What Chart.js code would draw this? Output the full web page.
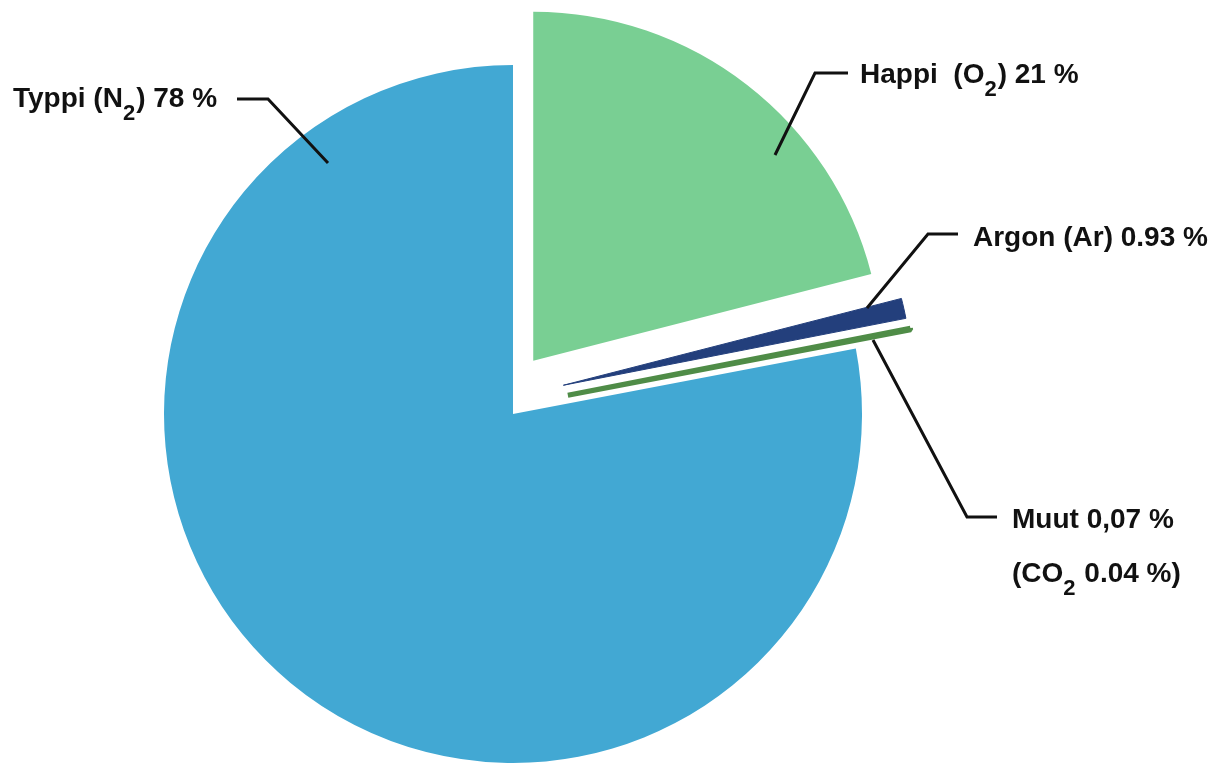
<!DOCTYPE html>
<html>
<head>
<meta charset="utf-8">
<title>Ilman koostumus</title>
<script src="https://cdn.jsdelivr.net/npm/chart.js@4.4.1/dist/chart.umd.min.js"></script>
<style>
  html, body { margin: 0; padding: 0; background: #fff; }
  #wrap { width: 1223px; height: 766px; position: relative; }
</style>
</head>
<body>
<div id="wrap"><canvas id="airChart"></canvas></div>
<script>
// Composition of dry air, percent (clockwise from 12 o'clock)
const gases = ['Happi', 'Argon', 'Muut', 'Typpi'];
const shares = [21, 0.93, 0.07, 78];

// Label rows per slice, "_2" marks a subscript digit
const labelRows = [
  ['Happi  (O_2) 21 %'],
  ['Argon (Ar) 0.93 %'],
  ['Muut 0,07 %', '(CO_2 0.04 %)'],
  ['Typpi (N_2) 78 %']
];

const sliceColors = ['#79cf93', '#233f7c', '#4f8c47', '#42a8d3'];

// Where each label sits and how its leader line runs (canvas px)
const labelLayout = [
  { x: 860,  y: 83,  line: [[848, 73], [815, 73], [775, 155]] },
  { x: 973,  y: 246, line: [[958, 234], [928, 234], [867, 308]] },
  { x: 1012, y: 528, line: [[997, 517], [967, 517], [873, 340]] },
  { x: 13,   y: 107, line: [[237, 99], [268, 99], [328, 163]] }
];

const FONT = '"Liberation Sans", Arial, sans-serif';

/**
 * Pull the exploded slices away from the centre
 */
const explodePlugin = {
  id: 'explode',
  afterDatasetsUpdate(chart) {
    const ds = chart.data.datasets[0];
    chart.getDatasetMeta(0).data.forEach((arc, i) => {
      const dist = ds.explode[i] || 0;
      if (!dist) return;
      const dir = (arc.startAngle + arc.endAngle) / 2 + (ds.explodeTurn[i] || 0) * Math.PI / 180;
      arc.x += Math.cos(dir) * dist;
      arc.y += Math.sin(dir) * dist;
    });
  }
};

// Draw one text row, lowering the subscript parts
function drawRow(ctx, text, x, y) {
  const parts = text.split(/_(\d)/);
  let cx = x;
  parts.forEach((part, i) => {
    const sub = i % 2 === 1;
    ctx.font = `bold ${sub ? 22 : 28}px ${FONT}`;
    ctx.fillText(part, cx, sub ? y + 13 : y);
    cx += ctx.measureText(part).width + (sub ? 1 : 0);
  });
}

/**
 * Labels with leader lines
 */
const labelPlugin = {
  id: 'gasLabels',
  afterDraw(chart) {
    const ctx = chart.ctx;
    ctx.save();
    ctx.strokeStyle = '#111';
    ctx.fillStyle = '#111';
    ctx.lineWidth = 3;
    ctx.textBaseline = 'alphabetic';
    ctx.textAlign = 'left';
    labelLayout.forEach((item, i) => {
      ctx.beginPath();
      item.line.forEach(([px, py], j) => j ? ctx.lineTo(px, py) : ctx.moveTo(px, py));
      ctx.stroke();
      labelRows[i].forEach((row, r) => drawRow(ctx, row, item.x, item.y + r * 54));
    });
    ctx.restore();
  }
};

const canvas = document.getElementById('airChart');
canvas.width = 1223;
canvas.height = 766;

new Chart(canvas.getContext('2d'), {
  type: 'pie',
  data: {
    labels: gases,
    datasets: [{
      data: shares,
      backgroundColor: sliceColors,
      borderColor: sliceColors,
      borderWidth: [0, 1, 5, 0],
      radius: 349,
      explode: [57, 58, 58, 0],
      explodeTurn: [-17, -17, -8, 0]
    }]
  },
  options: {
    responsive: false,
    animation: false,
    events: [],
    layout: { padding: { left: 0, right: 197, top: 62, bottom: 0 } },
    plugins: {
      legend: { display: false },
      tooltip: { enabled: false }
    }
  },
  plugins: [explodePlugin, labelPlugin]
});
</script>
</body>
</html>
